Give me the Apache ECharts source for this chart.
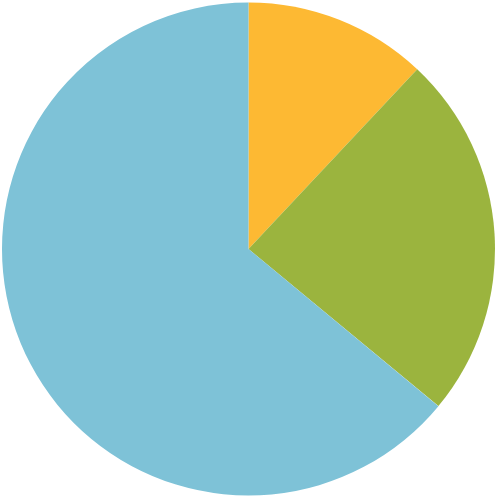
<!DOCTYPE html>
<html>
<head>
<meta charset="utf-8">
<script src="https://cdn.jsdelivr.net/npm/echarts@6/dist/echarts.min.js"></script>
<style>html,body{margin:0;padding:0;background:#fff}#c{width:500px;height:500px}</style>
</head>
<body>
<div id="c"></div>
<script>
const categories = ['A', 'B', 'C'];
const values = [12, 24, 64];
const colors = ['#FDB933', '#9BB43E', '#7EC2D7'];

const chart = echarts.init(document.getElementById('c'), null, {renderer: 'canvas'});
chart.setOption({
  animation: false,
  series: [{
    type: 'pie',
    center: [248.5, 249],
    radius: 246.5,
    startAngle: 90,
    clockwise: true,
    label: {show: false},
    labelLine: {show: false},
    emphasis: {disabled: true},
    itemStyle: {borderWidth: 0},
    data: categories.map((c, i) => ({name: c, value: values[i], itemStyle: {color: colors[i]}}))
  }]
});
</script>
</body>
</html>
